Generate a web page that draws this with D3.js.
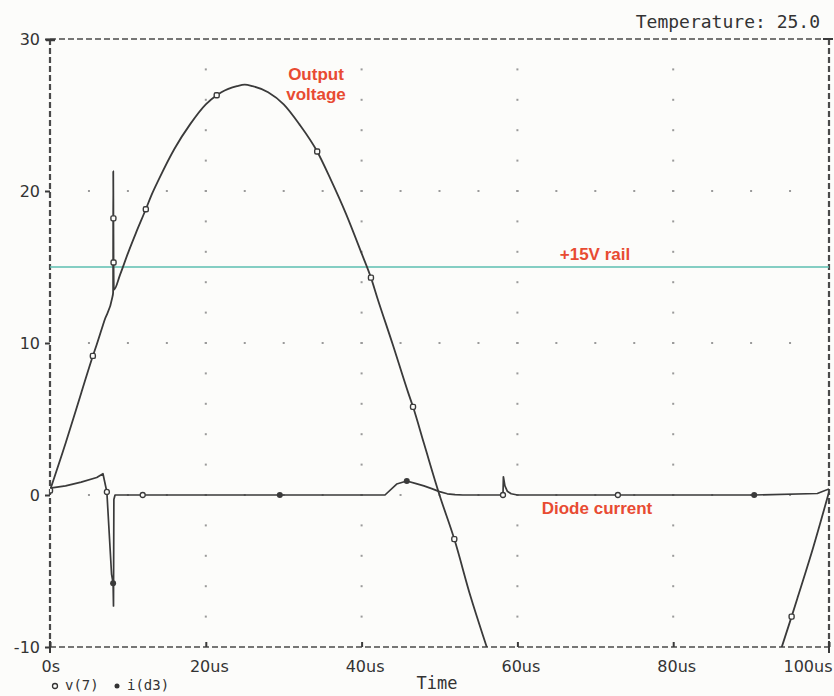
<!DOCTYPE html>
<html>
<head>
<meta charset="utf-8">
<script src="https://cdn.jsdelivr.net/npm/d3@7"></script>
<style>
  html, body { margin: 0; padding: 0; background: #fcfcfa; }
  svg { display: block; }
</style>
</head>
<body>
<script>
// ---------------- data ----------------
const xTickValues = [0, 20, 40, 60, 80, 100];          // us
const xTickLabels = ["0s", "20us", "40us", "60us", "80us", "100us"];
const yTickValues = [-10, 0, 10, 20, 30];
const yTickLabels = ["-10", "0", "10", "20", "30"];

// v(7) output voltage: time (us), volts
const vTime = [0, 2, 4, 5.5, 6, 7, 8, 8.10, 8.12, 8.14, 8.16, 8.2, 9, 10, 11, 12.3, 13, 14, 16, 18, 20, 21.4, 22, 24, 25, 26, 28, 30, 32, 34.3, 36, 38, 40, 41.2, 42, 44, 46, 46.6, 48, 50, 51.9, 54, 56, 58, 60, 65, 70, 75, 80, 85, 90, 92, 94, 95.2, 96, 98, 100];
const vVal  = [0.3, 3.4, 6.7, 9.15, 9.9, 11.5, 13.0, 13.3, 21.3, 18.2, 15.3, 13.5, 14.5, 15.9, 17.2, 18.8, 19.7, 20.8, 22.8, 24.4, 25.7, 26.3, 26.5, 26.9, 27.0, 26.9, 26.5, 25.7, 24.4, 22.6, 20.8, 18.5, 15.9, 14.3, 13.0, 9.9, 6.7, 5.8, 3.4, 0.0, -2.9, -6.7, -9.9, -13.0, -15.9, -21.8, -25.7, -27.0, -25.7, -21.8, -15.9, -13.0, -9.9, -8.0, -6.7, -3.4, 0.2];
const vMarkerTimes = [0, 5.5, 8.14, 8.16, 12.3, 21.4, 34.3, 41.2, 46.6, 51.9, 95.2];

// i(d3) diode current: time (us), amps
const iTime = [0, 2, 4, 6, 6.8, 7.3, 7.9, 8.1, 8.15, 8.2, 8.35, 11.9, 29.5, 43.0, 44.5, 45.8, 47, 48, 49, 50, 51, 52, 53, 58.15, 58.2, 58.4, 58.7, 59.2, 60, 72.9, 90.4, 98.5, 100];
const iVal  = [0.45, 0.6, 0.85, 1.15, 1.4, 0.2, -5.2, -5.8, -7.3, -0.3, 0, 0, 0, 0, 0.72, 0.92, 0.75, 0.6, 0.42, 0.22, 0.08, 0.02, 0, 0, 1.2, 0.6, 0.25, 0.08, 0, 0, 0, 0.1, 0.4];
const iMarkerFilled = [8.1, 29.5, 45.8, 90.4];
const iMarkerHollow = [7.3, 11.9, 58.15, 72.9];

// +15V rail
const railTime = [0, 100];
const railVal = [15, 15];

// grid dot spacing
const vGridTimes = [20, 40, 60, 80];
const vGridDotVolts = [-8, -6, -4, -2, 0, 2, 4, 6, 8, 10, 12, 14, 16, 18, 20, 22, 24, 26, 28];
const hGridVolts = [0, 10, 20];
const hGridDotTimes = [5, 10, 15, 20, 25, 30, 35, 40, 45, 50, 55, 60, 65, 70, 75, 80, 85, 90, 95];

// ---------------- drawing ----------------
const W = 834, H = 696;
const mLeft = 50, mRight = 829, mTop = 39, mBottom = 647;
const ink = "#3a3a3a";
const red = "#e84b32";

const svg = d3.select("body").append("svg").attr("width", W).attr("height", H);
svg.append("rect").attr("width", W).attr("height", H).attr("fill", "#fcfcfa");

const x = d3.scaleLinear().domain([0, 100]).range([mLeft, mRight]);
const y = d3.scaleLinear().domain([-10, 30]).range([mBottom, mTop]);

svg.append("defs").append("clipPath").attr("id", "plot")
  .append("rect").attr("x", mLeft).attr("y", mTop).attr("width", mRight - mLeft).attr("height", mBottom - mTop);

// grid dots
const g = svg.append("g");
vGridTimes.forEach(t => {
  vGridDotVolts.forEach(v => {
    g.append("rect").attr("x", x(t) - 1).attr("y", y(v) - 1).attr("width", 2).attr("height", 2).attr("fill", "#9a9a9a");
  });
});
hGridVolts.forEach(v => {
  hGridDotTimes.forEach(t => {
    g.append("rect").attr("x", x(t) - 1).attr("y", y(v) - 1).attr("width", 2).attr("height", 2).attr("fill", "#9a9a9a");
  });
});

// dashed frame
const frame = svg.append("g").attr("stroke", "#4a4a4a").attr("fill", "none").attr("stroke-width", 1.6).attr("stroke-dasharray", "6,3");
frame.append("line").attr("x1", mLeft).attr("x2", mRight).attr("y1", mTop).attr("y2", mTop);
frame.append("line").attr("x1", mLeft).attr("x2", mRight).attr("y1", mBottom).attr("y2", mBottom);
frame.append("line").attr("x1", mLeft).attr("x2", mLeft).attr("y1", mTop).attr("y2", mBottom).attr("stroke-width", 2.2);
frame.append("line").attr("x1", mRight).attr("x2", mRight).attr("y1", mTop).attr("y2", mBottom).attr("stroke-width", 2.2);

// axes
const yAxis = d3.axisLeft(y).tickValues(yTickValues).tickFormat((d, i) => yTickLabels[i]).tickSize(5).tickPadding(5);
const ya = svg.append("g").attr("transform", `translate(${mLeft},0)`).call(yAxis);
ya.select(".domain").remove();
ya.selectAll("line").attr("stroke", ink).attr("stroke-width", 2);
ya.selectAll("text").attr("font-family", "DejaVu Sans").attr("font-size", 16).attr("fill", "#333");

const xAxis = d3.axisBottom(x).tickValues(xTickValues).tickFormat((d, i) => xTickLabels[i]).tickSizeInner(-5).tickSizeOuter(0).tickPadding(14);
const xa = svg.append("g").attr("transform", `translate(0,${mBottom})`).call(xAxis);
xa.select(".domain").remove();
xa.selectAll("line").attr("stroke", ink).attr("stroke-width", 2);
xa.selectAll("text").attr("font-family", "DejaVu Sans").attr("font-size", 16).attr("fill", "#333")
  .attr("text-anchor", (d, i) => i === 0 ? "start" : (i === xTickValues.length - 1 ? "end" : "middle"))
  .attr("dx", (d, i) => i === 0 ? -9 : 3);

// corner marks
svg.append("line").attr("x1", mLeft - 4).attr("x2", mLeft + 5).attr("y1", mTop + 1).attr("y2", mTop + 1).attr("stroke", ink).attr("stroke-width", 2.5);
svg.append("line").attr("x1", mLeft).attr("x2", mLeft).attr("y1", mBottom - 6).attr("y2", mBottom + 6).attr("stroke", ink).attr("stroke-width", 2);
svg.append("line").attr("x1", mRight).attr("x2", mRight).attr("y1", mBottom - 6).attr("y2", mBottom + 6).attr("stroke", ink).attr("stroke-width", 2);
svg.append("line").attr("x1", mRight - 6).attr("x2", mRight + 4).attr("y1", mTop).attr("y2", mTop).attr("stroke", ink).attr("stroke-width", 2);

// series
const plot = svg.append("g").attr("clip-path", "url(#plot)");
const line = d3.line().x(d => x(d[0])).y(d => y(d[1]));
const smooth = d3.line().x(d => x(d[0])).y(d => y(d[1])).curve(d3.curveMonotoneX);

plot.append("path").datum(railTime.map((t, i) => [t, railVal[i]]))
  .attr("d", line).attr("fill", "none").attr("stroke", "#5cbfb0").attr("stroke-width", 1.6);

const iData = iTime.map((t, i) => [t, iVal[i]]);
plot.append("path").datum(iData)
  .attr("d", line).attr("fill", "none").attr("stroke", ink).attr("stroke-width", 1.7).attr("stroke-linejoin", "round");

const vData = vTime.map((t, i) => [t, vVal[i]]);
plot.append("path").datum(vData)
  .attr("d", smooth).attr("fill", "none").attr("stroke", ink).attr("stroke-width", 1.8).attr("stroke-linejoin", "round");

// markers
const lookup = (data, t) => data.find(d => d[0] === t);
vMarkerTimes.forEach(t => {
  const d = lookup(vData, t);
  plot.append("rect").attr("x", x(d[0]) - 2.5).attr("y", y(d[1]) - 2.5).attr("width", 5).attr("height", 5).attr("rx", 1.5)
    .attr("fill", "#fcfcfa").attr("stroke", ink).attr("stroke-width", 1.4);
});
iMarkerHollow.forEach(t => {
  const d = lookup(iData, t);
  plot.append("circle").attr("cx", x(d[0])).attr("cy", y(d[1])).attr("r", 2.5)
    .attr("fill", "#fcfcfa").attr("stroke", ink).attr("stroke-width", 1.3);
});
iMarkerFilled.forEach(t => {
  const d = lookup(iData, t);
  plot.append("circle").attr("cx", x(d[0])).attr("cy", y(d[1])).attr("r", 3).attr("fill", ink);
});

// annotations
const ann = svg.append("g").attr("font-family", "Liberation Sans, Arial, sans-serif").attr("font-weight", "bold")
  .attr("font-size", 17).attr("fill", red).attr("text-anchor", "middle");
ann.append("text").attr("x", 316).attr("y", 80).text("Output");
ann.append("text").attr("x", 316).attr("y", 100).text("voltage");
ann.append("text").attr("x", 595).attr("y", 260).text("+15V rail");
ann.append("text").attr("x", 597).attr("y", 514).text("Diode current");

// header / footer text
svg.append("text").attr("x", 820).attr("y", 28).attr("text-anchor", "end")
  .attr("font-family", "DejaVu Sans Mono").attr("font-size", 18).attr("fill", "#333").text("Temperature: 25.0");
svg.append("text").attr("x", 437).attr("y", 689).attr("text-anchor", "middle")
  .attr("font-family", "DejaVu Sans Mono").attr("font-size", 17).attr("fill", "#333").text("Time");

// legend
svg.append("circle").attr("cx", 55).attr("cy", 686).attr("r", 2.5).attr("fill", "none").attr("stroke", "#333").attr("stroke-width", 1.3);
svg.append("text").attr("x", 65).attr("y", 690).attr("font-family", "DejaVu Sans Mono").attr("font-size", 14).attr("fill", "#333").text("v(7)");
svg.append("circle").attr("cx", 117).attr("cy", 686).attr("r", 2.5).attr("fill", "#333");
svg.append("text").attr("x", 127).attr("y", 690).attr("font-family", "DejaVu Sans Mono").attr("font-size", 14).attr("fill", "#333").text("i(d3)");
</script>
</body>
</html>
